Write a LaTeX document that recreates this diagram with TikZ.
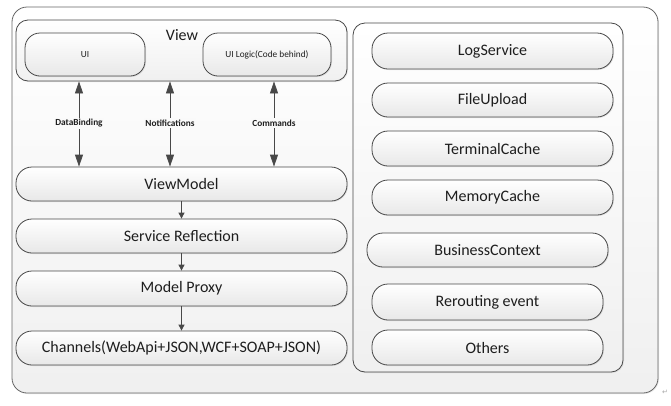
\documentclass[tikz,border=0pt]{standalone}
\usepackage{fontspec}
\setmainfont{Carlito}
\newfontfamily\symfnt{DejaVu Sans}
\usetikzlibrary{arrows.meta,shadows}
\definecolor{edge}{HTML}{484848}
\definecolor{txt}{HTML}{1E1E1E}
\begin{document}
\begin{tikzpicture}[x=1pt,y=-1pt,
  base/.style={draw=edge, line width=0.8pt, inner sep=0pt, text=txt},
  frame/.style={base, draw=gray!80!black, top color=white, bottom color=gray!12,
    drop shadow={shadow xshift=1pt, shadow yshift=-1pt, opacity=0.18}},
  pill/.style={base, top color=white, bottom color=gray!18, rounded corners=16pt,
    font=\fontsize{16}{19}\selectfont,
    drop shadow={shadow xshift=1pt, shadow yshift=-1pt, opacity=0.18}},
  small/.style={pill, rounded corners=15pt, font=\fontsize{9.3}{11}\selectfont},
  lbl/.style={font=\fontsize{9.3}{11}\selectfont\bfseries, text=txt, fill=gray!4, inner sep=1.5pt},
  dbl/.style={draw=edge, line width=0.8pt, {Triangle[length=12pt,width=8pt]}-{Triangle[length=12pt,width=8pt]}},
  one/.style={draw=edge, line width=0.8pt, -{Triangle[length=6pt,width=6pt]}}
]
\useasboundingbox (0,0) rectangle (671,405);
% outer frame
\node[frame, rounded corners=15pt, minimum width=646pt, minimum height=386pt] (outer) at (335,200) {};
% View group
\node[frame, draw=edge, rounded corners=12pt, minimum width=331pt, minimum height=61pt] (view) at (181.5,50.5) {};
\node[font=\fontsize{16}{19}\selectfont, text=txt] (viewlbl) at (182,35) {View};
\node[small, minimum width=120pt, minimum height=43pt] (ui) at (85,54.5) {UI};
\node[small, minimum width=128pt, minimum height=43pt] (uil) at (267,54.5) {UI Logic(Code behind)};
% left stack
\node[pill, minimum width=331pt, minimum height=34pt] (vm) at (181.5,184) {ViewModel};
\node[pill, minimum width=331pt, minimum height=34pt] (sr) at (181.5,236) {Service Reflection};
\node[pill, minimum width=331pt, minimum height=35pt] (mp) at (181.5,288.5) {Model Proxy};
\node[pill, minimum width=331pt, minimum height=34pt] (ch) at (181.5,348) {Channels(WebApi+JSON,WCF+SOAP+JSON)};
% arrows between View and ViewModel
\coordinate (xa) at (79,0);
\coordinate (xb) at (170,0);
\coordinate (xc) at (274,0);
\draw[dbl] (view.south -| xa) -- (vm.north -| xa) node[pos=0.49, lbl] (l1) {DataBinding};
\draw[dbl] (view.south -| xb) -- (vm.north -| xb) node[pos=0.49, lbl] (l2) {Notifications};
\draw[dbl] (view.south -| xc) -- (vm.north -| xc) node[pos=0.49, lbl] (l3) {Commands};
\draw[one] (vm.south) -- (sr.north);
\draw[one] (sr.south) -- (mp.north);
\draw[one] (mp.south) -- (ch.north);
% right group
\node[frame, draw=edge, rounded corners=12pt, minimum width=270pt, minimum height=349pt] (right) at (488,197.5) {};
\node[pill, minimum width=241pt, minimum height=36pt] (log) at (492.5,51) {LogService};
\node[pill, minimum width=241pt, minimum height=34pt] (file) at (492.5,100) {FileUpload};
\node[pill, minimum width=241pt, minimum height=35pt] (term) at (492.5,148.5) {TerminalCache};
\node[pill, minimum width=241pt, minimum height=35pt] (mem) at (492.5,197.5) {MemoryCache};
\node[pill, minimum width=241pt, minimum height=34pt] (bus) at (487.5,250) {BusinessContext};
\node[pill, minimum width=231pt, minimum height=36pt] (rer) at (487.5,302) {Rerouting event};
\node[pill, minimum width=231pt, minimum height=35pt] (oth) at (487.5,347.5) {Others};
% paragraph mark
\node[font=\symfnt\fontsize{7}{8}\selectfont, text=gray!70, inner sep=0pt] (para) at (665,392) {↵};
\end{tikzpicture}
\end{document}
